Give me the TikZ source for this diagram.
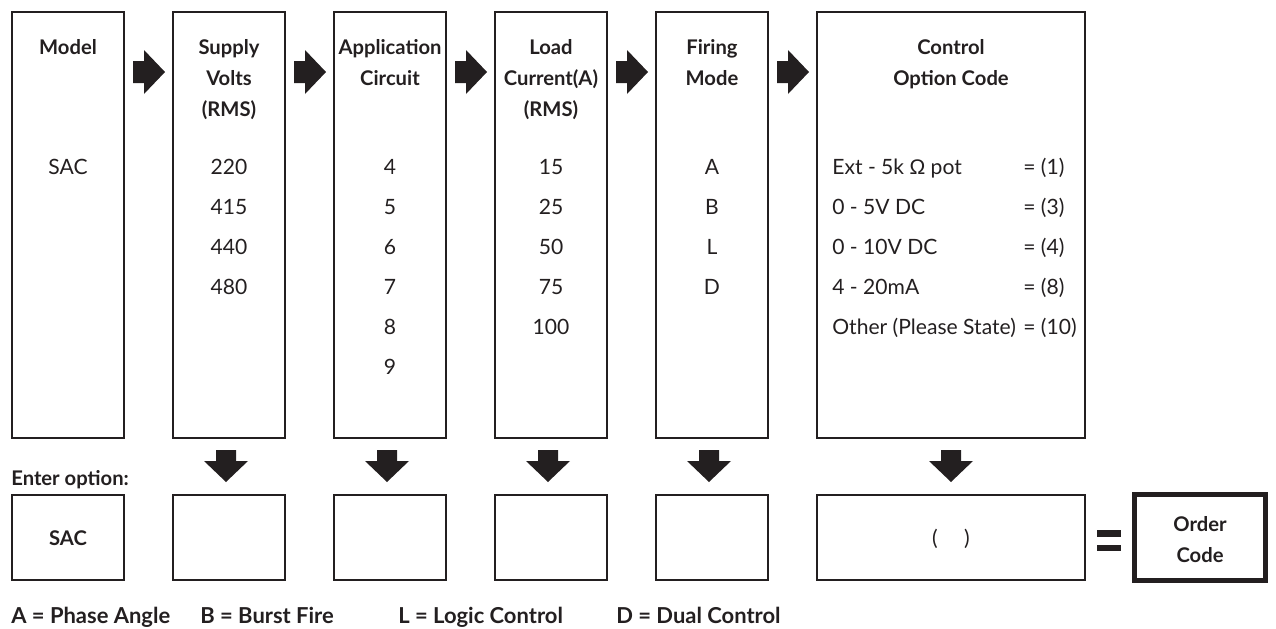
\documentclass[tikz,border=0pt]{standalone}
\usepackage{fontspec}
\setmainfont{Lato}
\newfontfamily\greekfont{Liberation Sans}
\definecolor{ink}{HTML}{231F20}
\begin{document}
\begin{tikzpicture}[x=0.02cm,y=-0.02cm,color=ink,
  box/.style={draw,line width=1.1pt,inner sep=0pt,minimum width=2.24cm},
  tall/.style={box,minimum height=8.52cm},
  slot/.style={box,minimum height=1.70cm},
  head/.style={anchor=base,align=center,inner sep=0pt,font=\bfseries\fontsize{11.5}{17.6}\selectfont},
  vals/.style={anchor=base,align=center,inner sep=0pt,font=\fontsize{12}{22.7}\selectfont},
  legend/.style={anchor=base west,inner sep=0pt,font=\bfseries\fontsize{12.5}{15}\selectfont},
  blk/.style={fill=ink}]
\useasboundingbox (0,0) rectangle (1276,629);
\node[tall] (model) at (68,225) {};
\node[tall] (volts) at (229,225) {};
\node[tall] (circuit) at (390,225) {};
\node[tall] (current) at (551,225) {};
\node[tall] (mode) at (712,225) {};
\node[tall,minimum width=5.36cm] (control) at (951,225) {};
\node[head] (modelhd) at (68,54) {Model};
\node[head] (voltshd) at (229,116) {Supply\\Volts\\(RMS)};
\node[head] (circuithd) at (390,85) {Application\\Circuit};
\node[head] (currenthd) at (551,116) {Load\\Current(A)\\(RMS)};
\node[head] (modehd) at (712,85) {Firing\\Mode};
\node[head] (controlhd) at (951,85) {Control\\Option Code};
\node[vals] (modelval) at (68,174) {SAC};
\node[vals] (voltsval) at (229,294) {220\\415\\440\\480};
\node[vals] (circuitval) at (390,374) {4\\5\\6\\7\\8\\9};
\node[vals] (currentval) at (551,334) {15\\25\\50\\75\\100};
\node[vals] (modeval) at (712,294) {A\\B\\L\\D};
\node[vals,anchor=base west,align=left] (controlval) at (832,334) {Ext - 5k {\greekfont Ω} pot\\0 - 5V DC\\0 - 10V DC\\4 - 20mA\\Other (Please State)};
\node[vals,anchor=base west,align=left] (controlno) at (1023,334) {= (1)\\= (3)\\= (4)\\= (8)\\= (10)};
\fill[blk] (133,61) -- (144,61) -- (144,50) -- (165,72) -- (144,94) -- (144,83) -- (133,83) -- cycle;
\fill[blk] (294,61) -- (305,61) -- (305,50) -- (326,72) -- (305,94) -- (305,83) -- (294,83) -- cycle;
\fill[blk] (455,61) -- (466,61) -- (466,50) -- (487,72) -- (466,94) -- (466,83) -- (455,83) -- cycle;
\fill[blk] (616,61) -- (627,61) -- (627,50) -- (648,72) -- (627,94) -- (627,83) -- (616,83) -- cycle;
\fill[blk] (777,61) -- (788,61) -- (788,50) -- (809,72) -- (788,94) -- (788,83) -- (777,83) -- cycle;
\fill[blk] (216,450) -- (236,450) -- (236,461) -- (248,461) -- (226,482) -- (204,461) -- (216,461) -- cycle;
\fill[blk] (377,450) -- (397,450) -- (397,461) -- (409,461) -- (387,482) -- (365,461) -- (377,461) -- cycle;
\fill[blk] (538,450) -- (558,450) -- (558,461) -- (570,461) -- (548,482) -- (526,461) -- (538,461) -- cycle;
\fill[blk] (699,450) -- (719,450) -- (719,461) -- (731,461) -- (709,482) -- (687,461) -- (699,461) -- cycle;
\fill[blk] (941,450) -- (961,450) -- (961,461) -- (973,461) -- (951,482) -- (929,461) -- (941,461) -- cycle;
\node[head,anchor=base west] (enter) at (11,485) {Enter option:};
\node[slot] (modelslot) at (68,537.5) {};
\node[slot] (voltsslot) at (229,537.5) {};
\node[slot] (circuitslot) at (390,537.5) {};
\node[slot] (currentslot) at (551,537.5) {};
\node[slot] (modeslot) at (712,537.5) {};
\node[slot,minimum width=5.36cm] (controlslot) at (951,537.5) {};
\node[head] (modelentry) at (68,545) {SAC};
\node[vals] (controlentry) at (951,545) {(\hspace{15pt})};
\fill[blk] (1097,530) rectangle (1121,536.5);
\fill[blk] (1097,545) rectangle (1121,551);
\node[draw,line width=2.8pt,inner sep=0pt,minimum width=2.62cm,minimum height=1.72cm] (order) at (1200,537.5) {};
\node[head] (orderhd) at (1200,562) {Order\\Code};
\node[legend] (legenda) at (11,623) {A = Phase Angle};
\node[legend] (legendb) at (200,623) {B = Burst Fire};
\node[legend] (legendl) at (398,623) {L = Logic Control};
\node[legend] (legendd) at (616,623) {D = Dual Control};
\end{tikzpicture}
\end{document}
